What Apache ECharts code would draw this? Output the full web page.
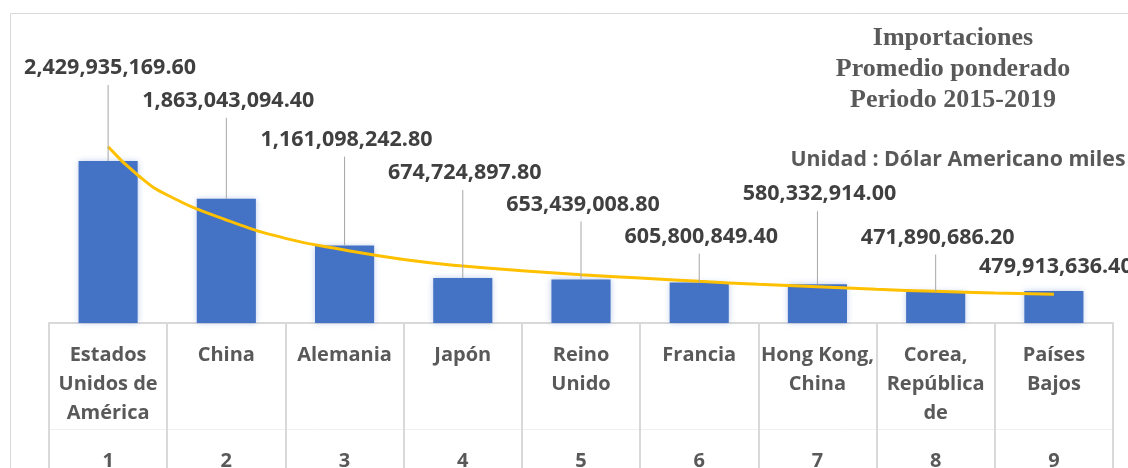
<!DOCTYPE html>
<html>
<head>
<meta charset="utf-8">
<script src="https://cdn.jsdelivr.net/npm/echarts@6/dist/echarts.min.js"></script>
<style>
html, body { margin: 0; padding: 0; background: #fff; }
#main { width: 1128px; height: 468px; }
</style>
</head>
<body>
<div id="main"></div>
<script>
// datos
var paises = ['Estados\nUnidos de\nAmérica', 'China', 'Alemania', 'Japón', 'Reino\nUnido', 'Francia', 'Hong Kong,\nChina', 'Corea,\nRepública\nde', 'Países\nBajos'];
var posiciones = ['1', '2', '3', '4', '5', '6', '7', '8', '9'];
var importaciones = [2429935169.60, 1863043094.40, 1161098242.80, 674724897.80, 653439008.80, 605800849.40, 580332914.00, 471890686.20, 479913636.40];
// linea de tendencia (posicion en categorias, valor)
var tendX = [0, 0.25, 0.5, 1, 1.5, 2, 2.5, 3, 3.5, 4, 4.5, 5, 5.5, 6, 6.5, 7, 7.5, 8];
var tendY = [2645000000, 2220000000, 1920000000, 1545000000, 1270000000, 1095000000, 952000000, 855000000, 785000000, 725000000, 675000000, 625000000, 580000000, 545000000, 505000000, 475000000, 450000000, 430000000];

// altura de cada etiqueta sobre la barra (px)
var labelRise = [93, 98, 106, 105, 75, 46, 90, 54, 24];

function fmt(v) {
	var s = v.toFixed(2).split('.');
	return s[0].replace(/\B(?=(\d{3})+(?!\d))/g, ',') + '.' + s[1];
}

var font = '"Open Sans", "Noto Sans", sans-serif';

var myChart = echarts.init(document.getElementById('main'), null, { renderer: 'canvas' });

var option = {
	animation: false,
	backgroundColor: '#fff',
	grid: { left: 49, right: 15, top: 23, bottom: 145, outerBoundsMode: 'none', containLabel: false },
	xAxis: [{
		type: 'category',
		data: paises,
		boundaryGap: true,
		axisLine: { show: true, lineStyle: { color: '#d9d9d9', width: 2 } },
		axisTick: { show: true, length: 146, alignWithLabel: false, lineStyle: { color: '#d9d9d9', width: 2 } },
		axisLabel: {
			interval: 0, margin: 18, color: '#595959', fontFamily: font,
			fontWeight: 'bold', fontSize: 20, lineHeight: 29, align: 'center'
		}
	}, {
		type: 'category',
		data: posiciones,
		position: 'bottom',
		offset: 106,
		boundaryGap: true,
		axisLine: { show: true, lineStyle: { color: '#f0f0f0', width: 1 } },
		axisTick: { show: false },
		axisLabel: {
			interval: 0, margin: 22, color: '#595959', fontFamily: font,
			fontWeight: 'bold', fontSize: 20, lineHeight: 20
		}
	}, {
		// eje auxiliar para la linea de tendencia
		type: 'value', min: -0.5, max: 8.5, show: false
	}],
	yAxis: { type: 'value', min: 0, max: 4500000000, show: false, splitLine: { show: false } },
	graphic: [{
		type: 'rect', silent: true, z: -1,
		shape: { x: 10.5, y: 13.5, width: 1200, height: 500 },
		style: { fill: 'none', stroke: '#d9d9d9', lineWidth: 1 }
	}, {
		type: 'text', x: 953, y: 23,
		style: {
			text: 'Importaciones\nPromedio ponderado\nPeriodo 2015-2019',
			align: 'center', verticalAlign: 'top', lineHeight: 31,
			fontFamily: '"Liberation Serif", "DejaVu Serif", serif', fontWeight: 'bold', fontSize: 26, fill: '#595959'
		}
	}, {
		type: 'text', x: 958, y: 160,
		style: {
			text: 'Unidad : Dólar Americano miles',
			align: 'center', verticalAlign: 'middle',
			fontFamily: font, fontWeight: 'bold', fontSize: 21.3, fill: '#595959'
		}
	}],
	series: [{
		type: 'bar',
		data: importaciones,
		barWidth: '50%',
		itemStyle: { color: '#4472C4', shadowBlur: 6, shadowColor: 'rgba(68,114,196,0.35)' }
	}, {
		type: 'line',
		xAxisIndex: 2,
		data: tendX.map(function (x, i) { return [x, tendY[i]]; }),
		smooth: 0.5,
		symbol: 'none',
		lineStyle: { color: '#FFC000', width: 3 },
		z: 3
	}, {
		type: 'custom',
		data: importaciones.map(function (v, i) { return [i, v]; }),
		z: 4,
		renderItem: function (params, api) {
			var i = params.dataIndex;
			var top = api.coord([api.value(0), api.value(1)]);
			var ly = top[1] - labelRise[i];
			var children = [];
			if (labelRise[i] > 30) {
				children.push({
					type: 'line',
					shape: { x1: top[0], y1: top[1], x2: top[0], y2: ly + 17 },
					style: { stroke: '#a6a6a6', lineWidth: 1 }
				});
			}
			children.push({
				type: 'text',
				x: top[0] + 2, y: ly,
				style: {
					text: fmt(api.value(1)), align: 'center', verticalAlign: 'middle',
					fontFamily: font, fontWeight: 'bold', fontSize: 21.5, fill: '#404040'
				}
			});
			return { type: 'group', children: children };
		}
	}]
};

myChart.setOption(option);
</script>
</body>
</html>
